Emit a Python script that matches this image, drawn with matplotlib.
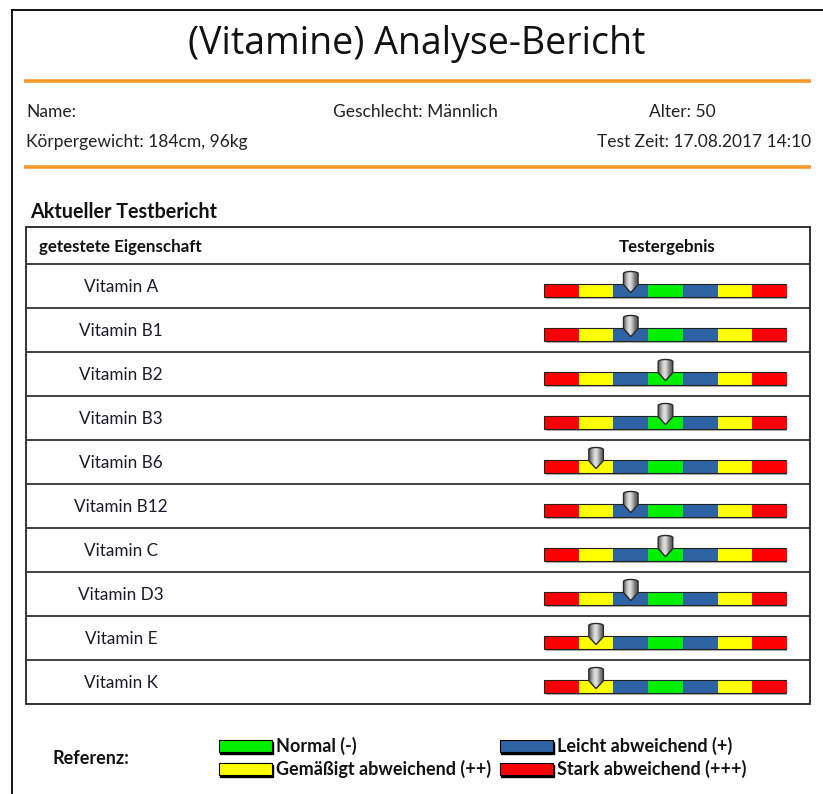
import numpy as np
import matplotlib
matplotlib.use("Agg")
import matplotlib.pyplot as plt
from matplotlib.patches import Rectangle, Polygon

# Data
vitamins = ["Vitamin A", "Vitamin B1", "Vitamin B2", "Vitamin B3", "Vitamin B6",
            "Vitamin B12", "Vitamin C", "Vitamin D3", "Vitamin E", "Vitamin K"]
# position of the pointer on the 7-segment scale (0..7)
results = [2.5, 2.5, 3.5, 3.5, 1.5, 2.5, 3.5, 2.5, 1.5, 1.5]
segment_colors = ["#ff0000", "#ffff00", "#2e64a4", "#00ee00", "#2e64a4", "#ffff00", "#ff0000"]
legend_labels = ["Normal (-)", "Leicht abweichend (+)",
                 "Gemäßigt abweichend (++)", "Stark abweichend (+++)"]
legend_colors = ["#00ee00", "#2e64a4", "#ffff00", "#ff0000"]

W, H = 823, 794
body_font = "Lato"
title_font = "Open Sans"

fig = plt.figure(figsize=(W / 100, H / 100), dpi=100)
ax = fig.add_axes([0, 0, 1, 1])
ax.set_xlim(0, W)
ax.set_ylim(H, 0)
ax.axis("off")

# page frame
ax.plot([12, W], [10, 10], color="black", lw=1.3)
ax.plot([12, 12], [10, H], color="black", lw=1.3)

# header
ax.text(417, 44, "(Vitamine) Analyse-Bericht", fontsize=27, family=title_font,
        ha="center", va="center", color="#111111")
for y in [81, 167]:
    ax.plot([24, 811], [y, y], color="#f7962e", lw=2.6, solid_capstyle="butt")

info_kw = dict(fontsize=12.5, family=body_font, va="center", color="#222222")
ax.text(26, 112, "Name:", ha="left", **info_kw)
ax.text(333, 112, "Geschlecht: Männlich", ha="left", **info_kw)
ax.text(682, 112, "Alter: 50", ha="center", **info_kw)
ax.text(26, 142, "Körpergewicht: 184cm, 96kg", ha="left", **info_kw)
ax.text(811, 142, "Test Zeit: 17.08.2017 14:10", ha="right", **info_kw)

ax.text(30, 212, "Aktueller Testbericht", fontsize=14.2, family=body_font,
        fontweight="bold", ha="left", va="center", color="#111111")

# table
t_left, t_right, t_top, h_bottom, row_h = 26, 810, 227, 264, 44
n = len(vitamins)
t_bottom = h_bottom + n * row_h
ax.add_patch(Rectangle((t_left, t_top), t_right - t_left, t_bottom - t_top,
                       fill=False, ec="#222222", lw=1.3))
for i in range(n):
    y = h_bottom + i * row_h
    ax.plot([t_left, t_right], [y, y], color="#333333", lw=1.3)
ax.text(39, 247, "getestete Eigenschaft", fontsize=12.2, family=body_font,
        fontweight="bold", ha="left", va="center", color="#111111")
ax.text(667, 247, "Testergebnis", fontsize=12.2, family=body_font,
        fontweight="bold", ha="center", va="center", color="#111111")
for i, name in enumerate(vitamins):
    ax.text(121, h_bottom + i * row_h + row_h / 2 + 1, name, fontsize=12.3,
            family=body_font, ha="center", va="center", color="#1a1a2a")

# result bars in their own axes: x = scale 0..7, y = row index
bx0, bx1 = 544, 787
bax = fig.add_axes([bx0 / W, (H - t_bottom) / H, (bx1 - bx0) / W, (t_bottom - h_bottom) / H])
bax.set_xlim(0, 7)
bax.set_ylim(n, 0)
bax.axis("off")

bar_top, bar_h = 0.455, 0.30
rows = np.arange(n)
# shadow
bax.barh(rows + bar_top + bar_h / 2 + 0.05, 7, left=0.07, height=bar_h,
         color="#000000", alpha=0.3, zorder=1)
bax.barh(rows + bar_top + bar_h / 2 + 0.025, 7, left=0.035, height=bar_h,
         color="#000000", alpha=0.45, zorder=1)
for k, c in enumerate(segment_colors):
    bax.barh(rows + bar_top + bar_h / 2, 1, left=k, height=bar_h, color=c,
             edgecolor="none", zorder=2)
bax.barh(rows + bar_top + bar_h / 2, 7, left=0, height=bar_h, fill=False,
         edgecolor="#222222", lw=0.8, zorder=3)

# pointers
grad = np.array([[0.4, 0.6, 0.8, 0.9, 0.82, 0.62, 0.45, 0.35]])
for i, v in enumerate(results):
    hw = 0.21
    top, shoulder, tip = i + 0.17, i + 0.47, i + 0.65
    xs = np.linspace(-1, 1, 9)
    arc = [(v + hw * x, top + 0.05 * (1 - np.sqrt(1 - x * x * 0.95))) for x in xs]
    verts = [(v - hw, shoulder), (v - hw, top + 0.04)] + arc + \
            [(v + hw, top + 0.04), (v + hw, shoulder), (v, tip)]
    poly = Polygon(verts, closed=True, fc="none", ec="#2a2a2a", lw=1.0, zorder=6)
    bax.add_patch(poly)
    im = bax.imshow(grad, cmap="gray", vmin=0, vmax=1, aspect="auto",
                    extent=(v - hw, v + hw, tip, top), zorder=5, interpolation="bicubic")
    im.set_clip_path(poly)
bax.set_xlim(0, 7)
bax.set_ylim(n, 0)

# legend
ax.text(53, 758, "Referenz:", fontsize=13, family=body_font, fontweight="bold",
        ha="left", va="center", color="#111111")
sw_x = [219, 500, 219, 500]
sw_y = [740, 740, 763, 763]
for lab, col, x, y in zip(legend_labels, legend_colors, sw_x, sw_y):
    ax.add_patch(Rectangle((x + 1.5, y + 1.5), 53, 12, color="black", zorder=1))
    ax.add_patch(Rectangle((x, y), 53, 12, fc=col, ec="black", lw=0.8, zorder=2))
    ax.text(x + 57, y + 6, lab, fontsize=13, family=body_font, fontweight="bold",
            ha="left", va="center", color="#111111")

fig.savefig("out.png", dpi=100)
